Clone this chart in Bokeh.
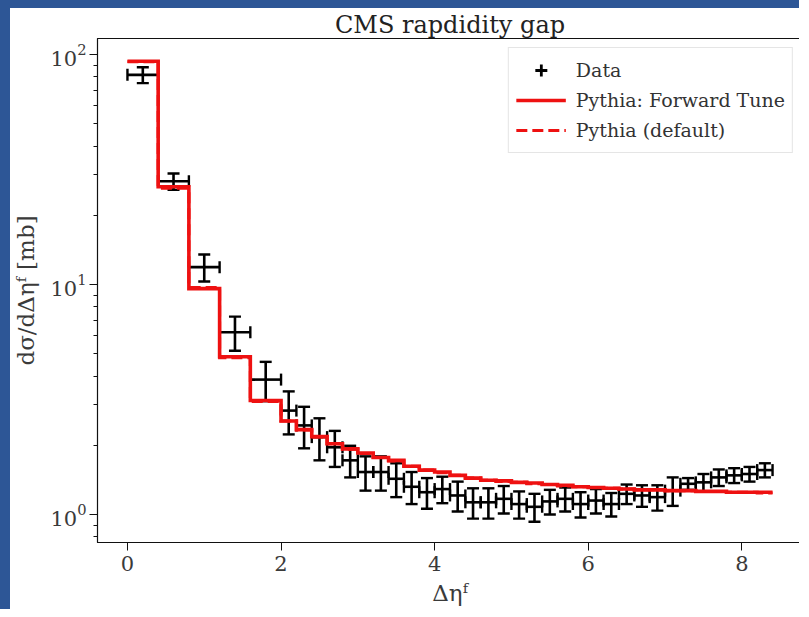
from bokeh.plotting import figure
from bokeh.models import (ColumnDataSource, Range1d, Legend, LegendItem, FixedTicker,
                          Whisker, TeeHead)
from bokeh.embed import file_html
from bokeh.resources import INLINE

# ---- data -------------------------------------------------------------------
bin_edges = [0.0, 0.4, 0.8, 1.2, 1.6, 2.0, 2.2, 2.4, 2.6, 2.8, 3.0, 3.2, 3.4, 3.6,
             3.8, 4.0, 4.2, 4.4, 4.6, 4.8, 5.0, 5.2, 5.4, 5.6, 5.8, 6.0, 6.2, 6.4,
             6.6, 6.8, 7.0, 7.2, 7.4, 7.6, 7.8, 8.0, 8.2, 8.4]

data_values = [81.6, 28.1, 11.9, 6.2, 3.86, 2.83, 2.44, 2.17, 1.96, 1.72, 1.53, 1.53,
               1.43, 1.32, 1.25, 1.29, 1.21, 1.13, 1.13, 1.17, 1.11, 1.08, 1.14, 1.17,
               1.11, 1.15, 1.11, 1.23, 1.21, 1.19, 1.27, 1.36, 1.38, 1.45, 1.48, 1.50,
               1.56]
data_errors = [6.5, 2.3, 1.6, 1.05, 0.75, 0.6, 0.5, 0.45, 0.35, 0.27, 0.26, 0.26,
               0.24, 0.21, 0.19, 0.17, 0.18, 0.17, 0.17, 0.16, 0.15, 0.15, 0.14, 0.14,
               0.14, 0.14, 0.13, 0.12, 0.13, 0.15, 0.18, 0.08, 0.12, 0.12, 0.11, 0.11,
               0.11]

forward_tune = [93.5, 26.6, 9.6, 4.85, 3.13, 2.55, 2.34, 2.18, 2.03, 1.93, 1.85, 1.77,
                1.72, 1.62, 1.56, 1.53, 1.48, 1.44, 1.41, 1.40, 1.38, 1.37, 1.35, 1.34,
                1.32, 1.31, 1.30, 1.29, 1.28, 1.28, 1.27, 1.27, 1.26, 1.26, 1.25, 1.25,
                1.25]
default_tune = [93.0, 26.2, 9.7, 4.80, 3.10, 2.55, 2.33, 2.17, 2.03, 1.92, 1.84, 1.77,
                1.71, 1.62, 1.56, 1.52, 1.48, 1.44, 1.41, 1.39, 1.38, 1.36, 1.35, 1.33,
                1.32, 1.31, 1.30, 1.29, 1.28, 1.28, 1.27, 1.27, 1.26, 1.26, 1.25, 1.25,
                1.24]

x_ticks = [0, 2, 4, 6, 8]
y_ticks = [1, 10, 100]
y_minor = [0.8, 0.9, 2, 3, 4, 5, 6, 7, 8, 9, 20, 30, 40, 50, 60, 70, 80, 90]

title_text = "CMS rapdidity gap"
x_label = "Δηᶠ"
y_label = "dσ/dΔηᶠ [mb]"
labels = ["Data", "Pythia: Forward Tune", "Pythia (default)"]

# ---- derived columns ----------------------------------------------------------
lo = bin_edges[:-1]
hi = bin_edges[1:]
centers = [(a + b) / 2 for a, b in zip(lo, hi)]
src = ColumnDataSource(dict(
    x=centers, y=data_values, xl=lo, xr=hi,
    yl=[v - e for v, e in zip(data_values, data_errors)],
    yu=[v + e for v, e in zip(data_values, data_errors)],
))

FONT = "DejaVu Serif"
BLUE = "#2d5696"

p = figure(width=799, height=609, output_backend="svg", toolbar_location=None,
           y_axis_type="log",
           x_range=Range1d(-0.39, 8.79), y_range=Range1d(0.7556, 117.4),
           min_border_left=87, min_border_right=7, min_border_top=30,
           min_border_bottom=75, background_fill_color="white",
           border_fill_color="white")
p.styles = {"border-left": f"10px solid {BLUE}", "border-top": f"8px solid {BLUE}"}

p.title.text = title_text
p.title.align = "center"
p.title.text_font = FONT
p.title.text_font_size = "24px"
p.title.text_font_style = "normal"
p.title.text_color = "#222222"
p.title.standoff = 0

p.xgrid.visible = False
p.ygrid.visible = False
p.outline_line_color = "#111111"
p.outline_line_width = 1.2

# model steps
r_fwd = p.step(x=bin_edges, y=forward_tune + [forward_tune[-1]], mode="after",
               line_color="#ee1111", line_width=3.6, line_join="miter")
r_def = p.step(x=bin_edges, y=default_tune + [default_tune[-1]], mode="after",
               line_color="#ee1111", line_width=3.0, line_dash="11 5",
               line_join="miter")

# data error bars
head_kw = dict(size=12, line_color="black", line_width=2.4)
p.add_layout(Whisker(source=src, base="x", lower="yl", upper="yu", dimension="height",
                     line_color="black", line_width=2.6,
                     lower_head=TeeHead(**head_kw), upper_head=TeeHead(**head_kw)))
p.add_layout(Whisker(source=src, base="y", lower="xl", upper="xr", dimension="width",
                     line_color="black", line_width=2.6,
                     lower_head=TeeHead(**head_kw), upper_head=TeeHead(**head_kw)))
r_data = p.scatter(x="x", y="y", source=src, marker="cross", size=0,
                   line_color="black", line_width=2.8)

# axes
for ax in (p.xaxis[0], p.yaxis[0]):
    ax.major_label_text_font = FONT
    ax.major_label_text_font_size = "21px"
    ax.major_label_text_color = "#3a3a3a"
    ax.axis_label_text_font = FONT
    ax.axis_label_text_font_size = "23px"
    ax.axis_label_text_font_style = "normal"
    ax.axis_label_text_color = "#3a3a3a"
    ax.axis_line_color = "#111111"
    ax.major_tick_line_color = "#111111"
    ax.minor_tick_line_color = "#111111"
    ax.major_tick_out = 8
    ax.major_tick_in = 0
    ax.minor_tick_out = 4
    ax.minor_tick_in = 0

p.xaxis.ticker = FixedTicker(ticks=x_ticks)
p.xaxis.minor_tick_line_color = None
p.xaxis.major_label_standoff = 5
p.xaxis.axis_label = x_label
p.xaxis.axis_label_standoff = 6

p.yaxis.ticker = FixedTicker(ticks=y_ticks, minor_ticks=y_minor)
p.yaxis.major_label_standoff = 3
p.yaxis.axis_label = y_label
p.yaxis.axis_label_standoff = 8

legend = Legend(items=[LegendItem(label=labels[0], renderers=[r_data]),
                       LegendItem(label=labels[1], renderers=[r_fwd]),
                       LegendItem(label=labels[2], renderers=[r_def])],
                location="top_right", margin=9, padding=7, spacing=-2,
                glyph_width=50, glyph_height=30, label_standoff=10,
                label_text_font=FONT, label_text_font_size="19px",
                label_text_color="#333333", border_line_color="#cccccc",
                border_line_width=1, background_fill_alpha=0.9)
p.add_layout(legend)

open("out.html", "w").write(file_html(p, INLINE))
